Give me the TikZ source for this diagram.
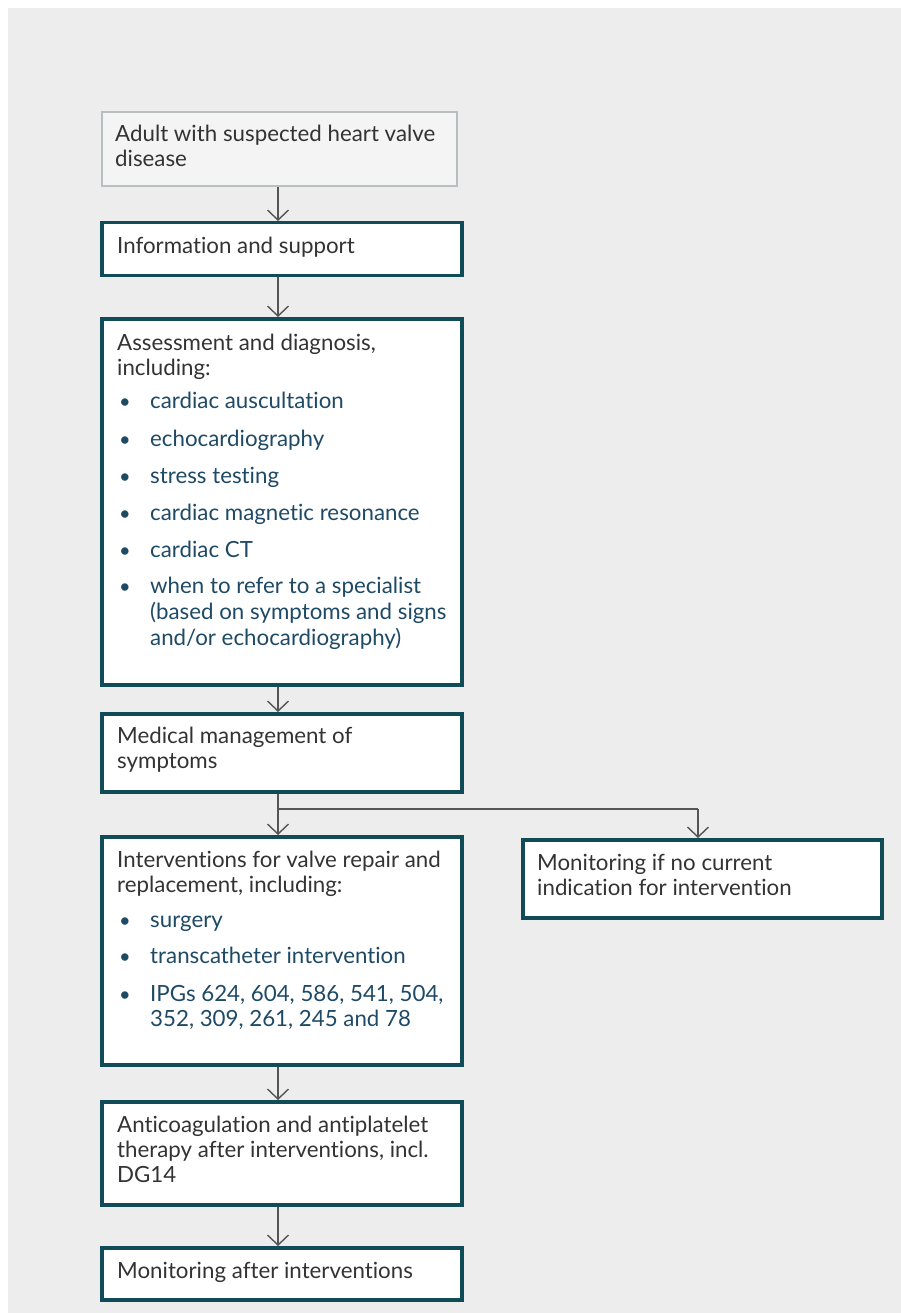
\documentclass[tikz,border=0pt]{standalone}
\usepackage{fontspec}
\setmainfont{Lato}[Ligatures=CommonOff]
\usetikzlibrary{arrows.meta}
\definecolor{bgc}{HTML}{EDEDED}
\definecolor{tealb}{HTML}{0F4C58}
\definecolor{headc}{HTML}{333333}
\definecolor{itemc}{HTML}{1F4A66}
\definecolor{linec}{HTML}{555555}
\definecolor{startfill}{HTML}{F4F4F4}
\definecolor{startdraw}{HTML}{B9BEC1}
\begin{document}
\begin{tikzpicture}[x=1pt,y=-1pt,
  box/.style={draw=tealb,line width=3.5pt,fill=white,rectangle,inner sep=0pt,anchor=north west},
  startbox/.style={draw=startdraw,line width=1.5pt,fill=startfill,rectangle,inner sep=0pt,anchor=north west},
  hd/.style={anchor=base west,inner sep=0pt,text=headc,font=\fontsize{22.3}{25}\selectfont},
  it/.style={anchor=base west,inner sep=0pt,text=itemc,font=\fontsize{22.3}{25}\selectfont},
  bul/.style={anchor=base,inner sep=0pt,text=itemc,font=\fontsize{20}{25}\selectfont},
  conn/.style={draw=linec,line width=1.4pt,-{Straight Barb[length=10pt,width=21pt,line width=1.4pt]}},
  seg/.style={draw=linec,line width=1.4pt}]
\useasboundingbox (0,0) rectangle (901,1313);
\fill[bgc] (8,8) rectangle (901,1313);
% boxes
\node[startbox,minimum width=355pt,minimum height=74pt] (b1) at (101,111.5) {};
\node[box,minimum width=360pt,minimum height=53pt] (b2) at (100,221) {};
\node[box,minimum width=360pt,minimum height=366pt] (b3) at (100,317) {};
\node[box,minimum width=360pt,minimum height=78pt] (b4) at (100,712) {};
\node[box,minimum width=360pt,minimum height=228pt] (b5) at (100,835) {};
\node[box,minimum width=359pt,minimum height=78pt] (b6) at (521,838) {};
\node[box,minimum width=360pt,minimum height=103pt] (b7) at (100,1100) {};
\node[box,minimum width=360pt,minimum height=52pt] (b8) at (100,1246) {};
% texts
\node[hd] (t1a) at (115,142) {Adult with suspected heart valve};
\node[hd] (t1b) at (115,167) {disease};
\node[hd] (t2a) at (117,254) {Information and support};
\node[hd] (t3a) at (117,350) {Assessment and diagnosis,};
\node[hd] (t3b) at (117,375) {including:};
\node[bul] (u31) at (125,408) {•};
\node[it] (t31) at (150,408) {cardiac auscultation};
\node[bul] (u32) at (125,446) {•};
\node[it] (t32) at (150,446) {echocardiography};
\node[bul] (u33) at (125,483) {•};
\node[it] (t33) at (150,483) {stress testing};
\node[bul] (u34) at (125,520) {•};
\node[it] (t34) at (150,520) {cardiac magnetic resonance};
\node[bul] (u35) at (125,557) {•};
\node[it] (t35) at (150,557) {cardiac CT};
\node[bul] (u36) at (125,593) {•};
\node[it] (t36a) at (150,593) {when to refer to a specialist};
\node[it] (t36b) at (150,619) {(based on symptoms and signs};
\node[it] (t36c) at (150,645) {and/or echocardiography)};
\node[hd] (t4a) at (117,743) {Medical management of};
\node[hd] (t4b) at (117,768) {symptoms};
\node[hd] (t5a) at (117,867) {Interventions for valve repair and};
\node[hd] (t5b) at (117,892) {replacement, including:};
\node[bul] (u51) at (125,927) {•};
\node[it] (t51) at (150,927) {surgery};
\node[bul] (u52) at (125,963) {•};
\node[it] (t52) at (150,963) {transcatheter intervention};
\node[bul] (u53) at (125,1001) {•};
\node[it] (t53a) at (150,1001) {IPGs 624, 604, 586, 541, 504,};
\node[it] (t53b) at (150,1026) {352, 309, 261, 245 and 78};
\node[hd] (t6a) at (537,870) {Monitoring if no current};
\node[hd] (t6b) at (537,895) {indication for intervention};
\node[hd] (t7a) at (117,1132) {Anticoagulation and antiplatelet};
\node[hd] (t7b) at (117,1157) {therapy after interventions, incl.};
\node[hd] (t7c) at (117,1182) {DG14};
\node[hd] (t8a) at (117,1278) {Monitoring after interventions};
% connectors
\coordinate (br) at (278,809);
\coordinate (br2) at (698,809);
\draw[conn] (b1.south -| br) -- (b2.north -| br);
\draw[conn] (b2.south -| br) -- (b3.north -| br);
\draw[conn] (b3.south -| br) -- (b4.north -| br);
\draw[conn] (b4.south -| br) -- (b5.north -| br);
\draw[seg] (br) -- (br2);
\draw[conn] (br2) -- (b6.north -| br2);
\draw[conn] (b5.south -| br) -- (b7.north -| br);
\draw[conn] (b7.south -| br) -- (b8.north -| br);
\end{tikzpicture}
\end{document}
